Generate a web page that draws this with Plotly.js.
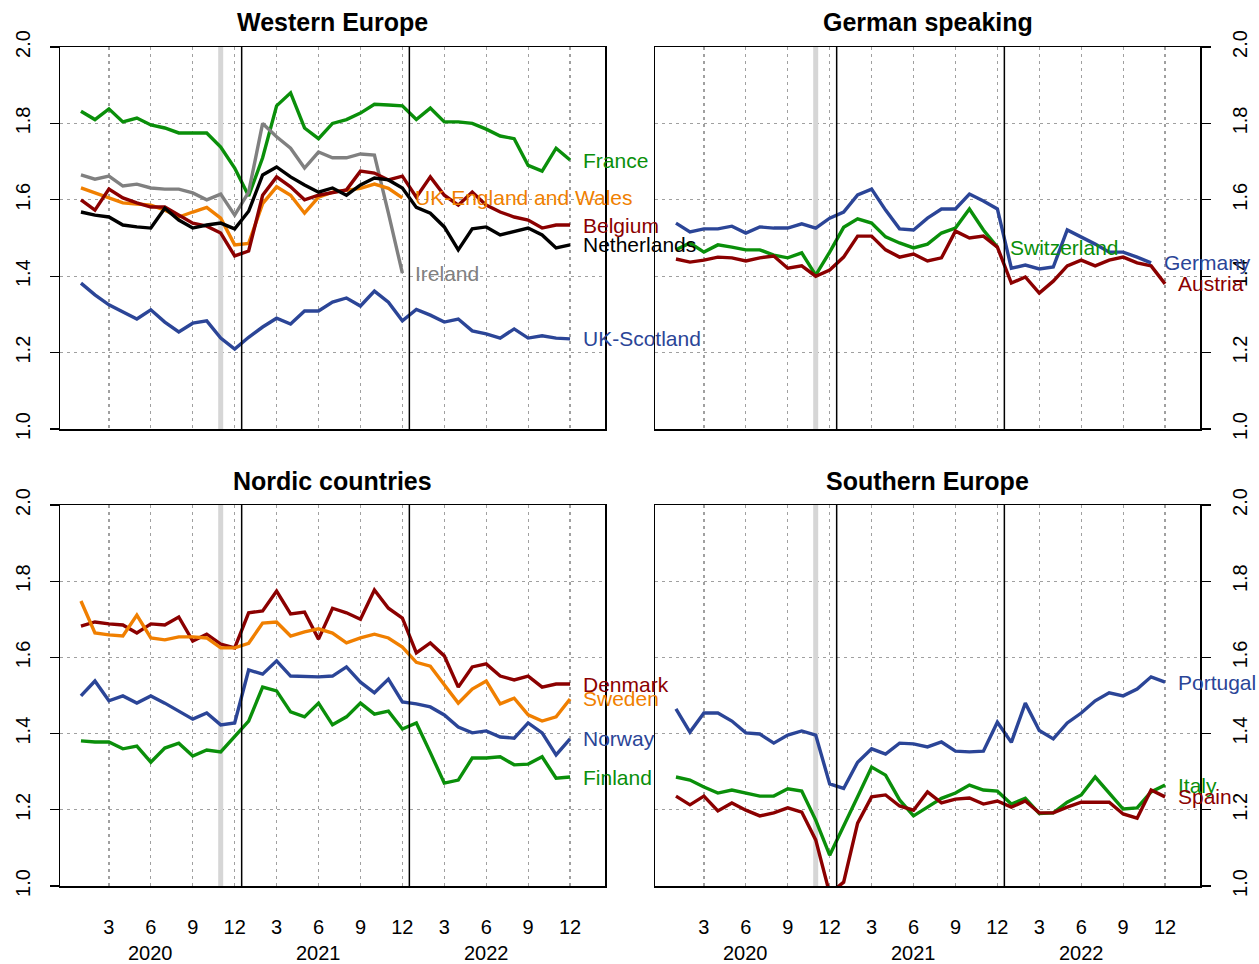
<!DOCTYPE html>
<html>
<head>
<meta charset="utf-8">
<script src="https://cdn.plot.ly/plotly-3.0.1.min.js"></script>
<style>html,body{margin:0;padding:0;background:#fff;}#chart{width:1259px;height:964px;}</style>
</head>
<body>
<div id="chart"></div>
<script>
// months 1..36 = Jan 2020 .. Dec 2022
const monthTicks = [3,6,9,12,15,18,21,24,27,30,33,36];
const monthTickText = ['3','6','9','12','3','6','9','12','3','6','9','12'];
const yearLabels = ['2020','2021','2022'];
const yearPos = [6,18,30];
const yTicks = [1.0,1.2,1.4,1.6,1.8,2.0];
const panelTitles = ['Western Europe','German speaking','Nordic countries','Southern Europe'];

// Western Europe
const france = [1.832,1.81,1.838,1.804,1.814,1.796,1.788,1.775,1.775,1.775,1.738,1.683,1.61,1.71,1.846,1.88,1.788,1.76,1.80,1.81,1.827,1.85,1.848,1.846,1.81,1.84,1.804,1.804,1.80,1.785,1.767,1.76,1.69,1.675,1.735,1.704];
const ukEngWales = [1.631,1.618,1.605,1.592,1.589,1.586,1.573,1.555,1.568,1.58,1.552,1.482,1.486,1.59,1.634,1.612,1.565,1.607,1.62,1.626,1.63,1.641,1.63,1.605];
const belgium = [1.60,1.573,1.628,1.605,1.592,1.581,1.581,1.56,1.539,1.531,1.513,1.453,1.466,1.612,1.66,1.634,1.60,1.612,1.618,1.626,1.675,1.67,1.652,1.662,1.607,1.66,1.612,1.586,1.62,1.586,1.568,1.555,1.547,1.526,1.534,1.534];
const netherlands = [1.568,1.56,1.555,1.534,1.529,1.526,1.578,1.547,1.526,1.534,1.539,1.524,1.57,1.665,1.686,1.66,1.639,1.62,1.631,1.612,1.639,1.657,1.652,1.631,1.58,1.565,1.529,1.469,1.524,1.529,1.508,1.518,1.526,1.508,1.474,1.482];
const ireland = [1.665,1.654,1.662,1.636,1.641,1.631,1.628,1.628,1.618,1.60,1.615,1.56,1.62,1.80,1.765,1.735,1.683,1.725,1.71,1.71,1.72,1.717,1.565,1.408];
const ukScotland = [1.382,1.351,1.325,1.306,1.288,1.312,1.28,1.254,1.277,1.283,1.238,1.209,1.24,1.267,1.29,1.275,1.309,1.309,1.332,1.343,1.322,1.361,1.332,1.283,1.313,1.298,1.28,1.288,1.257,1.249,1.238,1.262,1.238,1.244,1.238,1.236];

// German speaking
const germany = [1.539,1.516,1.524,1.524,1.531,1.513,1.529,1.526,1.526,1.537,1.526,1.552,1.568,1.613,1.628,1.573,1.524,1.521,1.552,1.576,1.576,1.615,1.597,1.576,1.421,1.429,1.419,1.424,1.521,1.503,1.484,1.463,1.463,1.45,1.435];
const switzerland = [1.469,1.487,1.463,1.482,1.476,1.469,1.469,1.455,1.448,1.461,1.403,1.463,1.528,1.55,1.539,1.503,1.487,1.474,1.484,1.513,1.526,1.576,1.521,1.476];
const austria = [1.445,1.437,1.442,1.45,1.448,1.44,1.448,1.453,1.421,1.427,1.40,1.416,1.45,1.505,1.505,1.469,1.45,1.458,1.44,1.448,1.518,1.50,1.505,1.476,1.382,1.398,1.356,1.387,1.427,1.442,1.427,1.442,1.45,1.435,1.427,1.38];

// Nordic countries
const denmark = [1.682,1.693,1.688,1.685,1.664,1.688,1.685,1.706,1.643,1.661,1.635,1.625,1.717,1.722,1.774,1.714,1.719,1.648,1.729,1.717,1.70,1.777,1.729,1.703,1.612,1.638,1.604,1.522,1.575,1.583,1.551,1.541,1.551,1.522,1.53,1.53];
const sweden = [1.748,1.664,1.659,1.656,1.711,1.651,1.646,1.654,1.654,1.651,1.625,1.625,1.637,1.69,1.693,1.656,1.667,1.675,1.664,1.638,1.651,1.661,1.651,1.627,1.587,1.577,1.528,1.48,1.517,1.538,1.478,1.493,1.449,1.433,1.444,1.491];
const norway = [1.499,1.538,1.486,1.499,1.48,1.499,1.48,1.459,1.438,1.454,1.423,1.428,1.567,1.556,1.591,1.551,1.549,1.549,1.551,1.575,1.535,1.507,1.543,1.483,1.478,1.47,1.449,1.417,1.402,1.407,1.391,1.388,1.428,1.402,1.344,1.386];
const finland = [1.381,1.378,1.378,1.36,1.367,1.325,1.362,1.375,1.341,1.357,1.352,1.391,1.433,1.522,1.512,1.457,1.444,1.48,1.423,1.444,1.48,1.451,1.459,1.412,1.428,1.35,1.27,1.278,1.336,1.336,1.339,1.318,1.32,1.339,1.283,1.286];

// Southern Europe
const portugal = [1.465,1.404,1.454,1.454,1.433,1.402,1.399,1.375,1.396,1.407,1.396,1.268,1.256,1.325,1.36,1.346,1.375,1.373,1.365,1.378,1.354,1.352,1.354,1.43,1.377,1.48,1.408,1.386,1.428,1.454,1.486,1.507,1.499,1.517,1.549,1.535];
const italy = [1.286,1.278,1.26,1.244,1.252,1.244,1.236,1.236,1.255,1.249,1.173,1.081,1.155,1.234,1.312,1.291,1.226,1.184,1.207,1.23,1.244,1.265,1.252,1.249,1.215,1.23,1.19,1.192,1.22,1.239,1.286,1.244,1.202,1.205,1.247,1.265];
const spain = [1.236,1.213,1.236,1.197,1.218,1.199,1.184,1.192,1.205,1.194,1.121,0.98,1.01,1.165,1.234,1.239,1.21,1.199,1.247,1.218,1.228,1.231,1.215,1.223,1.207,1.223,1.192,1.192,1.207,1.22,1.22,1.22,1.189,1.178,1.252,1.234];

const C = {green:'#0a8f0a', red:'#8b0000', blue:'#2b4597', orange:'#f07f00', gray:'#808080', black:'#000000'};

const series = [
  {name:'France', y:france, c:C.green, ax:1},
  {name:'Ireland', y:ireland, c:C.gray, ax:1},
  {name:'UK-England and Wales', y:ukEngWales, c:C.orange, ax:1},
  {name:'Belgium', y:belgium, c:C.red, ax:1},
  {name:'Netherlands', y:netherlands, c:C.black, ax:1},
  {name:'UK-Scotland', y:ukScotland, c:C.blue, ax:1},
  {name:'Switzerland', y:switzerland, c:C.green, ax:2},
  {name:'Austria', y:austria, c:C.red, ax:2},
  {name:'Germany', y:germany, c:C.blue, ax:2},
  {name:'Denmark', y:denmark, c:C.red, ax:3},
  {name:'Sweden', y:sweden, c:C.orange, ax:3},
  {name:'Norway', y:norway, c:C.blue, ax:3},
  {name:'Finland', y:finland, c:C.green, ax:3},
  {name:'Portugal', y:portugal, c:C.blue, ax:4},
  {name:'Italy', y:italy, c:C.green, ax:4},
  {name:'Spain', y:spain, c:C.red, ax:4}
];

const FONT = 'Liberation Sans, Arial, sans-serif';
const traces = [];
const annotations = [];

// vertical reference lines drawn as traces (gray at Nov 2020, black at year boundaries)
['x','x2','x3','x4'].forEach((xa, i) => {
  const ya = i === 0 ? 'y' : 'y' + (i+1);
  traces.push({type:'scatter', mode:'lines', x:[11,11], y:[0.9,2.1], xaxis:xa, yaxis:ya,
    line:{color:'#d6d6d6', width:5}, showlegend:false, hoverinfo:'skip'});
});

series.forEach(s => {
  const x = s.y.map((_, i) => i + 1);
  const xa = s.ax === 1 ? 'x' : 'x' + s.ax;
  const ya = s.ax === 1 ? 'y' : 'y' + s.ax;
  traces.push({type:'scatter', mode:'lines', x:x, y:s.y, xaxis:xa, yaxis:ya,
    line:{color:s.c, width:3.4}, name:s.name, showlegend:false, hoverinfo:'skip'});
  annotations.push({xref:xa, yref:ya, x:x[x.length-1], y:s.y[s.y.length-1],
    text:s.name, showarrow:false, xanchor:'left', yanchor:'middle', xshift:11,
    font:{family:FONT, size:21, color:s.c}});
});

['x','x2','x3','x4'].forEach((xa, i) => {
  const ya = i === 0 ? 'y' : 'y' + (i+1);
  [12.5, 24.5].forEach(v => traces.push({type:'scatter', mode:'lines', x:[v,v], y:[0.9,2.1], xaxis:xa, yaxis:ya,
    line:{color:'#000', width:1.5}, showlegend:false, hoverinfo:'skip'}));
});

const xDomL = [60/1259, 605/1259], xDomR = [655/1259, 1200/1259];
const yDomT = [1-429/964, 1-47/964], yDomB = [1-886/964, 1-505/964];

function xAxis(domain, anchor, labels) {
  return {domain:domain, anchor:anchor, range:[-0.5,38.5], tickvals:monthTicks, ticktext:monthTickText,
    showticklabels:labels, ticks:'', ticklabelstandoff:22, tickfont:{family:FONT, size:20, color:'#000'},
    showgrid:true, gridcolor:'#a0a0a0', gridwidth:1.2, griddash:'3px,4px', zeroline:false,
    showline:true, mirror:true, linecolor:'#000', linewidth:1.5};
}
function yAxis(domain, anchor, side) {
  return {domain:domain, anchor:anchor, range:[1,2], tickvals:yTicks, tickformat:'.1f', side:side,
    ticks:'outside', ticklen:9, tickwidth:1.3, tickcolor:'#000', tickangle:-90, ticklabelstandoff:12,
    tickfont:{family:FONT, size:20, color:'#000'},
    showgrid:true, gridcolor:'#a0a0a0', gridwidth:1.2, griddash:'3px,4px', zeroline:false,
    showline:true, mirror:true, linecolor:'#000', linewidth:1.5};
}

const titleY = [1-22/964, 1-22/964, 1-481/964, 1-481/964];
const titleX = [332.5/1259, 927.5/1259, 332.5/1259, 927.5/1259];
panelTitles.forEach((t, i) => annotations.push({xref:'paper', yref:'paper', x:titleX[i], y:titleY[i],
  text:'<b>'+t+'</b>', showarrow:false, xanchor:'center', yanchor:'middle', font:{family:FONT, size:25, color:'#000'}}));

['x3','x4'].forEach(xa => yearLabels.forEach((yl, i) => annotations.push({xref:xa, yref:'paper', x:yearPos[i], y:1-953/964,
  text:yl, showarrow:false, xanchor:'center', yanchor:'middle', font:{family:FONT, size:20, color:'#000'}})));

const layout = {
  width:1259, height:964, margin:{l:0, r:0, t:0, b:0}, paper_bgcolor:'#fff', plot_bgcolor:'#fff',
  showlegend:false, font:{family:FONT},
  xaxis: xAxis(xDomL, 'y', false),
  yaxis: yAxis(yDomT, 'x', 'left'),
  xaxis2: xAxis(xDomR, 'y2', false),
  yaxis2: yAxis(yDomT, 'x2', 'right'),
  xaxis3: xAxis(xDomL, 'y3', true),
  yaxis3: yAxis(yDomB, 'x3', 'left'),
  xaxis4: xAxis(xDomR, 'y4', true),
  yaxis4: yAxis(yDomB, 'x4', 'right'),
  annotations: annotations
};

Plotly.newPlot('chart', traces, layout, {displayModeBar:false, staticPlot:true});
</script>
</body>
</html>
